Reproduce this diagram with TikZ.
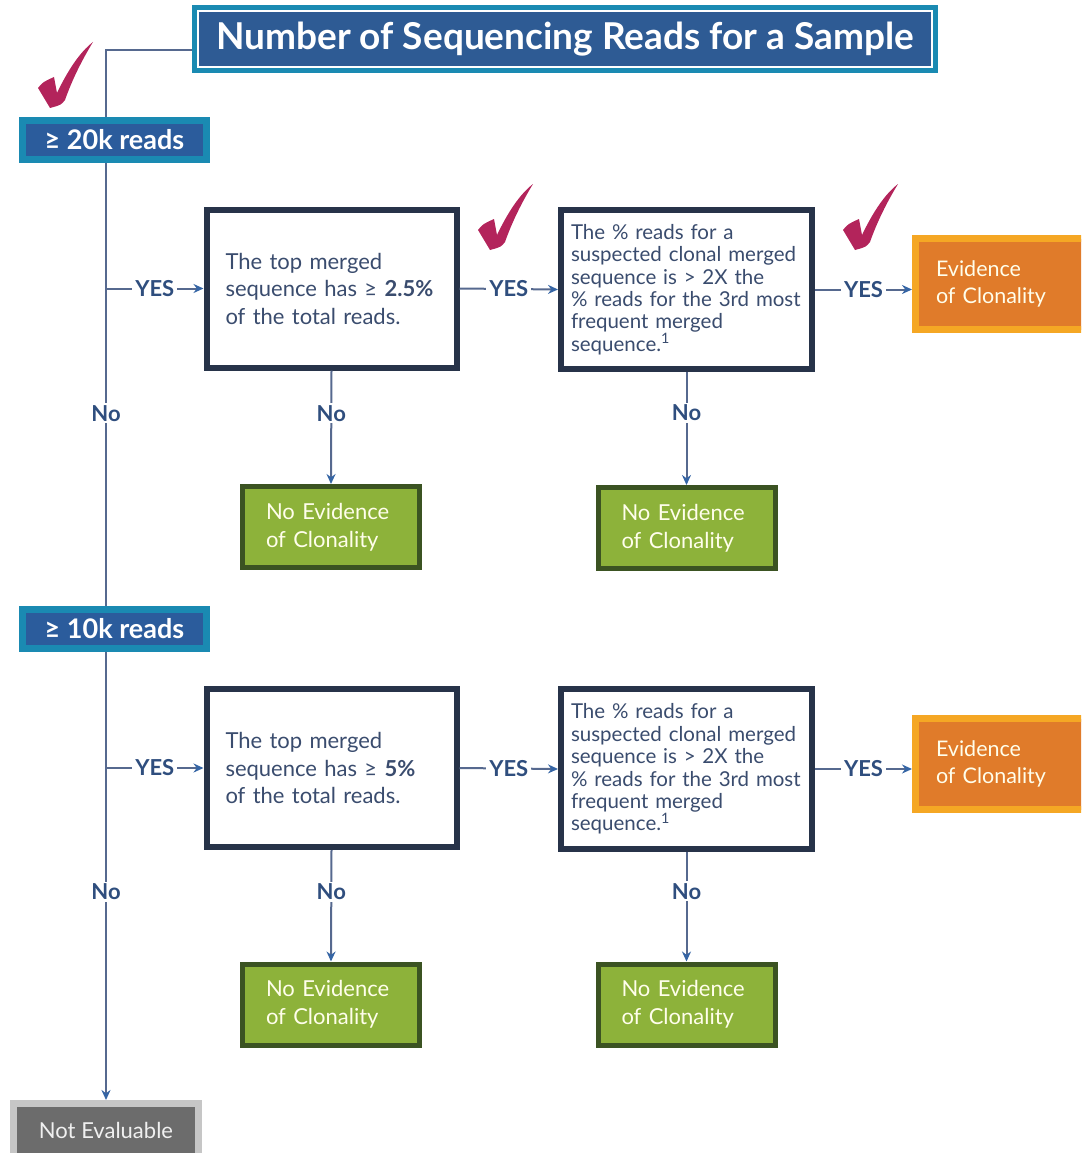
\documentclass[tikz,border=0pt]{standalone}
\usepackage{fontspec}
\setmainfont{Lato}
\usetikzlibrary{arrows.meta}

\definecolor{titleblue}{HTML}{2E5B94}
\definecolor{frameteal}{HTML}{1A8AB2}
\definecolor{readsblue}{HTML}{2B5C9C}
\definecolor{navyline}{HTML}{273349}
\definecolor{bodytext}{HTML}{3A4C6E}
\definecolor{linkblue}{HTML}{56698F}
\definecolor{arrowblue}{HTML}{3565A5}
\definecolor{labelblue}{HTML}{2F4E7E}
\definecolor{leafgreen}{HTML}{8DB23A}
\definecolor{darkgreen}{HTML}{3B5322}
\definecolor{evidorange}{HTML}{E07B2A}
\definecolor{evidyellow}{HTML}{F5A724}
\definecolor{tickred}{HTML}{B3245B}
\definecolor{greyfill}{HTML}{6C6C6C}
\definecolor{greyframe}{HTML}{C6C6C6}

\tikzset{
  titlebox/.style={fill=titleblue,draw=white,line width=2pt,
    preaction={draw=frameteal,line width=12pt},text=white,
    font=\bfseries\fontsize{37}{40}\selectfont,
    minimum width=734pt,minimum height=56pt,inner sep=0pt},
  readsbox/.style={fill=readsblue,draw=frameteal,line width=7pt,text=white,
    font=\bfseries\fontsize{27}{30}\selectfont,
    minimum width=184pt,minimum height=39pt,inner sep=0pt},
  testbox/.style={fill=white,draw=navyline,line width=6pt,text=bodytext,
    align=left,inner sep=0pt,minimum width=250pt,minimum height=158pt},
  smalltext/.style={font=\fontsize{20.5}{22.4}\selectfont,text width=231pt},
  bigtext/.style={font=\fontsize{22}{27.5}\selectfont,text width=212pt},
  greenbox/.style={fill=leafgreen,draw=darkgreen,line width=5pt,
    text=white!92!yellow,align=left,inner sep=0pt,
    font=\fontsize{22}{28}\selectfont,text width=130pt,
    minimum width=177pt,minimum height=81pt},
  evidbox/.style={fill=evidorange,draw=evidyellow,line width=7pt,
    text=white!92!yellow,align=left,anchor=west,
    font=\fontsize{21.5}{27}\selectfont,
    text width=140pt,inner xsep=20.5pt,minimum height=91pt},
  notevbox/.style={fill=greyfill,draw=greyframe,line width=7pt,
    text=white!88!gray,font=\fontsize{22}{24}\selectfont,
    minimum width=185pt,minimum height=53pt,inner sep=0pt},
  link/.style={draw=linkblue,line width=2pt},
  arrowlink/.style={link,-{Stealth[length=10pt,width=9pt,color=arrowblue]}},
  yeslabel/.style={fill=white,text=labelblue,inner xsep=3pt,
    font=\bfseries\fontsize{22}{24}\selectfont},
  nolabel/.style={fill=white,text=labelblue,inner sep=2pt,
    font=\bfseries\fontsize{22}{24}\selectfont},
  check/.pic={
    \fill[tickred] (0,0) -- (-12,-20) .. controls (-7,-26) .. (4,-31)
      -- (7,-15) .. controls (18,-38) and (30,-56) .. (43,-66)
      .. controls (32,-48) and (22,-28) .. (15,-8)
      .. controls (11,-3) .. (0,0) -- cycle;
  }
}

\begin{document}
\begin{tikzpicture}[x=1pt,y=-1pt]
\clip (0,0) rectangle (1081,1153);

% header and main branch
\node[titlebox] (title) at (565,39) {Number of Sequencing Reads for a Sample};
\coordinate (start) at (192,50);
\coordinate (corner) at (106,50);

\node[readsbox] (twenty) at (114.5,140) {≥ 20k reads};
\node[readsbox] (ten) at (114.5,628.5) {≥ 10k reads};
\node[notevbox] (notev) at (106,1130) {Not Evaluable};

% first row (20k)
\node[testbox,bigtext] (topA) at (331.5,288.5)
  {The top merged\\sequence has ≥ \textbf{2.5\%}\\of the total reads.};
\node[testbox,smalltext,minimum width=251pt,minimum height=159pt] (ratioA) at (686.5,289.5)
  {The \% reads for a\\suspected clonal merged\\sequence is > 2X the\\\% reads for the 3rd most\\frequent merged\\sequence.\textsuperscript{1}};
\node[evidbox] (evidA) at (912,284) {Evidence\\of Clonality};
\node[greenbox] (noneA) at (331,527) {No Evidence\\of Clonality};
\node[greenbox] (noneB) at (686.5,528) {No Evidence\\of Clonality};

% second row (10k)
\node[testbox,bigtext] (topB) at (331.5,768)
  {The top merged\\sequence has ≥ \textbf{5\%}\\of the total reads.};
\node[testbox,smalltext,minimum width=251pt,minimum height=160pt] (ratioB) at (686.5,769)
  {The \% reads for a\\suspected clonal merged\\sequence is > 2X the\\\% reads for the 3rd most\\frequent merged\\sequence.\textsuperscript{1}};
\node[evidbox] (evidB) at (912,764) {Evidence\\of Clonality};
\node[greenbox] (noneC) at (331,1004.5) {No Evidence\\of Clonality};
\node[greenbox] (noneD) at (686.5,1004.5) {No Evidence\\of Clonality};

% left spine
\draw[link] (start) -- (corner) -- (corner |- twenty.north);
\draw[link] (corner |- twenty.south) -- node[nolabel,pos=.566] {No} (corner |- ten.north);
\draw[arrowlink] (corner |- ten.south) -- node[nolabel,pos=.536] {No} (notev.north);

% yes arrows
\draw[arrowlink] (corner |- topA.west) -- node[yeslabel] {YES} (topA.west);
\draw[arrowlink] (topA.east) -- node[yeslabel] {YES} (ratioA.west);
\draw[arrowlink] (ratioA.east) -- node[yeslabel] {YES} (ratioA.east -| evidA.west);
\draw[arrowlink] (corner |- topB.west) -- node[yeslabel] {YES} (topB.west);
\draw[arrowlink] (topB.east) -- node[yeslabel] {YES} (ratioB.west);
\draw[arrowlink] (ratioB.east) -- node[yeslabel] {YES} (ratioB.east -| evidB.west);

% no arrows
\draw[arrowlink] (topA.south) -- node[nolabel,pos=.377] {No} (noneA.north);
\draw[arrowlink] (ratioA.south) -- node[nolabel,pos=.36] {No} (noneB.north);
\draw[arrowlink] (topB.south) -- node[nolabel,pos=.375] {No} (noneC.north);
\draw[arrowlink] (ratioB.south) -- node[nolabel,pos=.36] {No} (noneD.north);

% ticks
\pic at (50,108) {check};
\pic at (490,250) {check};
\pic at (855,250) {check};
\end{tikzpicture}
\end{document}
